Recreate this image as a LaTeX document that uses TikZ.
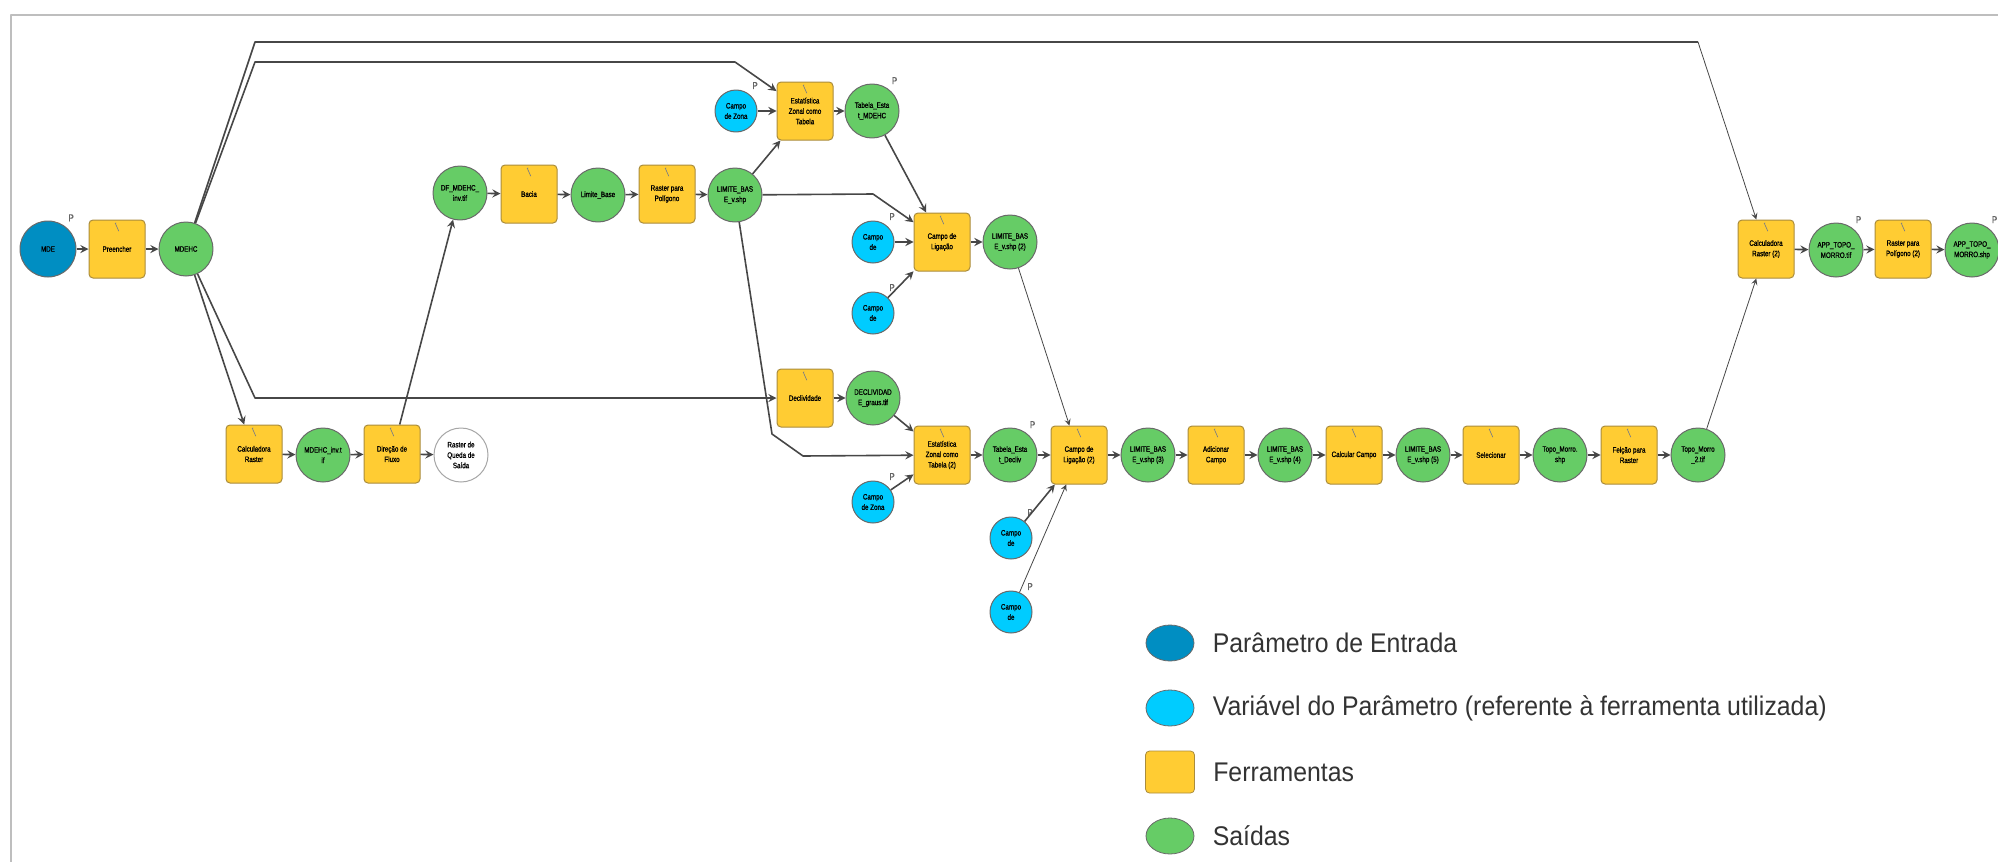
\documentclass[tikz,border=0pt]{standalone}
\usepackage{fontspec}
\setmainfont{Liberation Sans}
\newfontfamily\nodefont[FakeStretch=0.8,FakeBold=1]{Liberation Sans}
\newfontfamily\legfont[FakeStretch=0.92]{Liberation Sans}
\usetikzlibrary{positioning,shapes.geometric}
\definecolor{entradaazul}{RGB}{0,142,194}
\definecolor{variavelazul}{RGB}{0,204,255}
\definecolor{ferramenta}{RGB}{255,204,51}
\definecolor{bordaferr}{RGB}{170,140,60}
\definecolor{saida}{RGB}{102,204,102}
\definecolor{contorno}{RGB}{105,105,105}
\definecolor{moldura}{RGB}{190,190,190}
\newcommand\nodetext{\nodefont\fontsize{3.9}{5.2}\selectfont}
\newcommand\legtext{\legfont\fontsize{13.5}{16}\selectfont}
\begin{document}
\begin{tikzpicture}[x=0.5pt,y=-0.5pt,>=stealth,line join=round,label distance=2pt]
    \tikzset{tool/.style={rectangle,rounded corners=2pt,draw=bordaferr,fill=ferramenta,line width=0.5pt,
                 minimum width=28pt,minimum height=29pt,inner sep=0pt,align=center,font=\nodetext,
                 path picture={\draw[gray,line width=0.35pt,sharp corners]
                     ([xshift=-1pt,yshift=-1.8pt]path picture bounding box.north) -- ++(0.6pt,0.4pt)
                     ([xshift=-0.7pt,yshift=-2pt]path picture bounding box.north) -- ++(1.6pt,-3.6pt);}},
             saida/.style={circle,draw=contorno,fill=saida,line width=0.5pt,minimum size=27pt,
                 inner sep=0pt,align=center,font=\nodetext},
             entrada/.style={saida,fill=entradaazul,minimum size=28pt},
             variavel/.style={saida,fill=variavelazul,minimum size=21pt},
             vazio/.style={saida,fill=white,draw=gray!70},
             ptag/.style={font=\nodefont\fontsize{5}{6}\selectfont,text=gray!80!black,inner sep=0.5pt},
             liga/.style={->,line width=0.8pt,draw=black!72},
             ligafina/.style={->,line width=0.4pt,draw=black!72},
             legtxt/.style={font=\legtext,text=black!80,inner sep=1pt,anchor=west}}
    \useasboundingbox (0,0) rectangle (1998,862);
    \draw[moldura,line width=1.2pt] (1998,15) -- (11,15) -- (11,862);
    % first branch
    \node[entrada,label={[ptag]54:P}] (mde) at (48,249) {MDE};
    \node[tool] (preencher) at (117,249) {Preencher};
    \node[saida] (mdehc) at (186,249) {MDEHC};
    \node[tool] (calcR) at (254,454) {Calculadora\\Raster};
    \node[saida] (mdehcInv) at (323,455) {MDEHC\_inv.t\\if};
    \node[tool] (dirFluxo) at (392,454) {Direção de\\Fluxo};
    \node[vazio] (queda) at (461,455) {Raster de\\Queda de\\Saída};
    \node[saida] (dfInv) at (460,193) {DF\_MDEHC\_\\inv.tif};
    \node[tool] (bacia) at (529,194) {Bacia};
    \node[saida] (limBase) at (598,195) {Limite\_Base};
    \node[tool] (rpp) at (667,194) {Raster para\\Polígono};
    \node[saida] (lim) at (735,195) {LIMITE\_BAS\\E\_v.shp};
    % zonal statistics
    \node[variavel,label={[ptag]54:P}] (zona) at (736,111) {Campo\\de Zona};
    \node[tool] (ezt) at (805,111) {Estatística\\Zonal como\\Tabela};
    \node[saida,label={[ptag]54:P}] (tabMdehc) at (872,111) {Tabela\_Esta\\t\_MDEHC};
    \node[variavel,label={[ptag]54:P}] (campoA) at (873,242) {Campo\\de};
    \node[variavel,label={[ptag]54:P}] (campoB) at (873,313) {Campo\\de};
    \node[tool] (cdl) at (942,242) {Campo de\\Ligação};
    \node[saida] (lim2) at (1010,242) {LIMITE\_BAS\\E\_v.shp (2)};
    \node[tool] (decl) at (805,398) {Declividade};
    \node[saida] (declGraus) at (873,398) {DECLIVIDAD\\E\_graus.tif};
    \node[tool] (ezt2) at (942,455) {Estatística\\Zonal como\\Tabela (2)};
    \node[variavel,label={[ptag]54:P}] (zona2) at (873,502) {Campo\\de Zona};
    \node[saida,label={[ptag]54:P}] (tabDecliv) at (1010,455) {Tabela\_Esta\\t\_Decliv};
    \node[tool] (cdl2) at (1079,455) {Campo de\\Ligação (2)};
    \node[variavel,label={[ptag]54:P}] (campoC) at (1011,538) {Campo\\de};
    \node[variavel,label={[ptag]54:P}] (campoD) at (1011,612) {Campo\\de};
    % main row
    \node[saida] (lim3) at (1148,455) {LIMITE\_BAS\\E\_v.shp (3)};
    \node[tool] (adicionar) at (1216,455) {Adicionar\\Campo};
    \node[saida] (lim4) at (1285,455) {LIMITE\_BAS\\E\_v.shp (4)};
    \node[tool] (calcular) at (1354,455) {Calcular Campo};
    \node[saida] (lim5) at (1423,455) {LIMITE\_BAS\\E\_v.shp (5)};
    \node[tool] (selecionar) at (1491,455) {Selecionar};
    \node[saida] (topo) at (1560,455) {Topo\_Morro.\\shp};
    \node[tool] (feicao) at (1629,455) {Feição para\\Raster};
    \node[saida] (topo2) at (1698,455) {Topo\_Morro\\\_2.tif};
    \node[tool] (calcR2) at (1766,249) {Calculadora\\Raster (2)};
    \node[saida,label={[ptag]54:P}] (appTif) at (1836,250) {APP\_TOPO\_\\MORRO.tif};
    \node[tool] (rpp2) at (1903,249) {Raster para\\Polígono (2)};
    \node[saida,label={[ptag]54:P}] (appShp) at (1972,250) {APP\_TOPO\_\\MORRO.shp};
    % bends
    \coordinate (topoA) at (255,42);
    \coordinate (topoB) at (1698,42);
    \coordinate (meioA) at (255,62);
    \coordinate (meioB) at (735,62);
    \coordinate (declA) at (255,398);
    \coordinate (limA) at (873,194);
    \coordinate (limB) at (772,434);
    \coordinate (limC) at (803,456);
    % connectors
    \foreach \a/\b in {mde/preencher,preencher/mdehc,mdehc/calcR,calcR/mdehcInv,mdehcInv/dirFluxo,
                       dirFluxo/queda,dirFluxo/dfInv,dfInv/bacia,bacia/limBase,limBase/rpp,rpp/lim,
                       zona/ezt,lim/ezt,ezt/tabMdehc,tabMdehc/cdl,campoA/cdl,campoB/cdl,cdl/lim2,
                       decl/declGraus,declGraus/ezt2,zona2/ezt2,ezt2/tabDecliv,tabDecliv/cdl2,campoC/cdl2,
                       cdl2/lim3,lim3/adicionar,adicionar/lim4,lim4/calcular,calcular/lim5,lim5/selecionar,
                       selecionar/topo,topo/feicao,feicao/topo2,calcR2/appTif,appTif/rpp2,rpp2/appShp}
        \draw[liga] (\a) -- (\b);
    \draw[liga] (mdehc) -- (meioA) -- (meioB) -- (ezt);
    \draw[liga] (mdehc) -- (declA) -- (decl);
    \draw[liga] (lim) -- (limA) -- (cdl);
    \draw[liga] (lim) -- (limB) -- (limC) -- (ezt2);
    \draw[liga,-] (mdehc) -- (topoA) -- (topoB);
    \draw[ligafina] (topoB) -- (calcR2);
    \draw[ligafina] (lim2) -- (cdl2);
    \draw[ligafina] (campoD) -- (cdl2);
    \draw[ligafina] (topo2) -- (calcR2);
    % legend
    \node[ellipse,draw=contorno,fill=entradaazul,minimum width=24pt,minimum height=18pt] (legEntrada) at (1170,643) {};
    \node[ellipse,draw=contorno,fill=variavelazul,minimum width=24pt,minimum height=18pt] (legVariavel) at (1170,708) {};
    \node[rectangle,rounded corners=2pt,draw=bordaferr,fill=ferramenta,minimum width=24.5pt,minimum height=21pt] (legFerr) at (1170,772) {};
    \node[ellipse,draw=contorno,fill=saida,minimum width=24pt,minimum height=18pt] (legSaida) at (1170,836) {};
    \node[legtxt,right=8pt of legEntrada] (txtEntrada) {Parâmetro de Entrada};
    \node[legtxt,right=8pt of legVariavel] (txtVariavel) {Variável do Parâmetro (referente à ferramenta utilizada)};
    \node[legtxt,right=8pt of legFerr] (txtFerr) {Ferramentas};
    \node[legtxt,right=8pt of legSaida] (txtSaida) {Saídas};
\end{tikzpicture}
\end{document}
